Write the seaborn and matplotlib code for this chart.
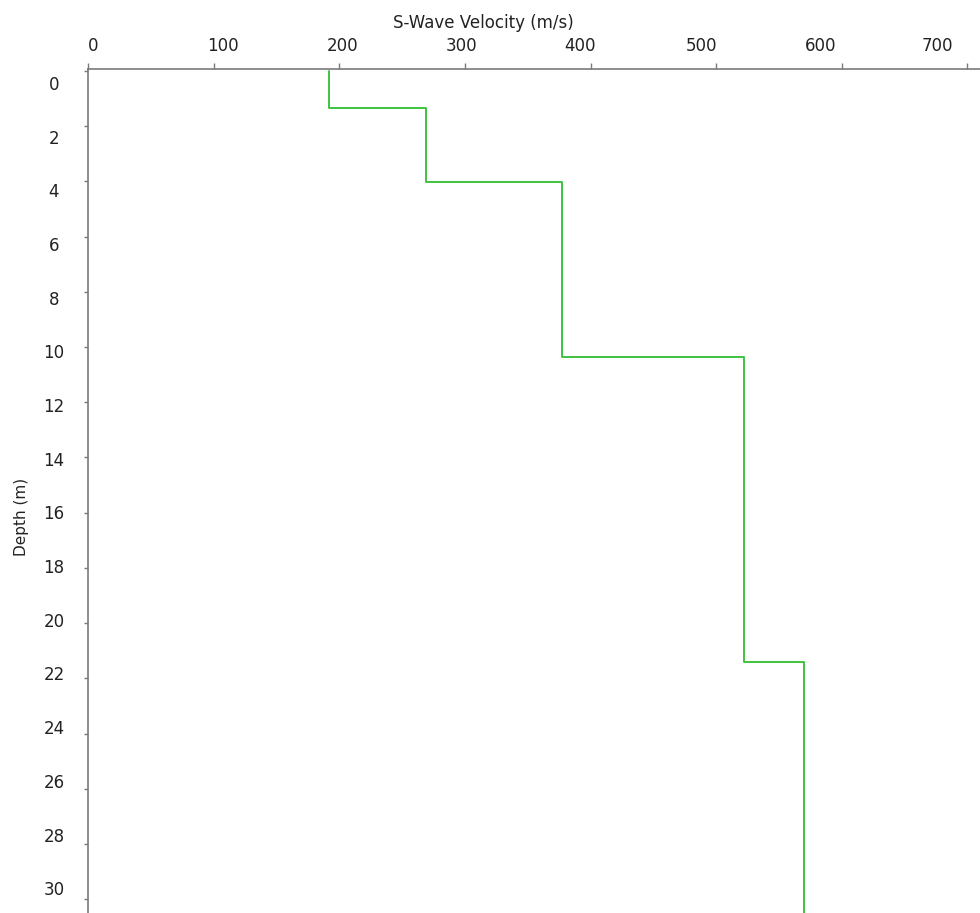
import numpy as np
import pandas as pd
import matplotlib
matplotlib.use("Agg")
import matplotlib.pyplot as plt
import matplotlib.transforms as mtransforms
import seaborn as sns

# Layer data
layer_top_depth = [0.0, 1.34, 4.02, 10.35, 21.41]   # m
layer_velocity = [192, 269, 377, 522, 570]          # m/s
profile_bottom = 30.5                                # m (end of plotted profile)
x_ticks = [0, 100, 200, 300, 400, 500, 600, 700]
y_ticks = list(range(0, 31, 2))

# Build the step profile from layer values
bottoms = layer_top_depth[1:] + [profile_bottom]
xs, ys = [], []
for v, top, bot in zip(layer_velocity, layer_top_depth, bottoms):
    xs += [v, v]
    ys += [top, bot]
df = pd.DataFrame({"velocity": xs, "depth": ys})

sns.set_style("white")
plt.rcParams['font.family'] = ['DejaVu Sans']

fig = plt.figure(figsize=(9.8, 9.13), dpi=100)
ax = fig.add_axes([88 / 980, 0.0, 1 - 88 / 980, 1 - 69 / 913])

sns.lineplot(data=df, x="velocity", y="depth", sort=False, estimator=None,
             color="#3ec43e", linewidth=1.4, ax=ax)

ax.set_xlim(0, 710)
ax.set_ylim(30.5, -0.07)

ax.xaxis.set_ticks_position("top")
ax.xaxis.set_label_position("top")
ax.set_xticks(x_ticks)
ax.set_yticks(y_ticks)
ax.set_xticklabels([str(t) for t in x_ticks])
ax.set_yticklabels([str(t) for t in y_ticks])

for side in ["bottom", "right"]:
    ax.spines[side].set_visible(False)
for side in ["top", "left"]:
    ax.spines[side].set_visible(True)
    ax.spines[side].set_color("#7a7a7a")
    ax.spines[side].set_linewidth(1.2)

ax.tick_params(axis="x", which="both", top=True, bottom=False, direction="out",
               length=4.5, width=1, color="#7a7a7a", pad=5.5,
               labelsize=12, labelcolor="#222222")
ax.tick_params(axis="y", which="both", left=True, right=False, direction="out",
               length=3, width=1, color="#7a7a7a", pad=21.5,
               labelsize=12, labelcolor="#222222")

# The source renders tick labels slightly displaced from their tick marks
x_label_shift_px = [5, 9, 3, -3, -11, -15, -21, -30]
for tick, dx in zip(ax.xaxis.get_major_ticks(), x_label_shift_px):
    lab = tick.label2
    lab.set_transform(lab.get_transform() +
                      mtransforms.ScaledTranslation(dx / 100, 0, fig.dpi_scale_trans))
for tick, d in zip(ax.yaxis.get_major_ticks(), y_ticks):
    lab = tick.label1
    lab.set_horizontalalignment("center")
    dy = 12 - 23 * d / 30
    lab.set_transform(lab.get_transform() +
                      mtransforms.ScaledTranslation(0, -dy / 100, fig.dpi_scale_trans))

ax.set_xlabel("S-Wave Velocity (m/s)", fontsize=12, color="#222222")
ax.set_ylabel("Depth (m)", fontsize=11, color="#222222")
ax.xaxis.set_label_coords(0.443, 1.0545)
ax.xaxis.label.set_verticalalignment("center")
ax.yaxis.set_label_coords(-0.074, 0.469)
ax.yaxis.label.set_verticalalignment("center")

ax.grid(False)
fig.savefig("out.png", dpi=100)
